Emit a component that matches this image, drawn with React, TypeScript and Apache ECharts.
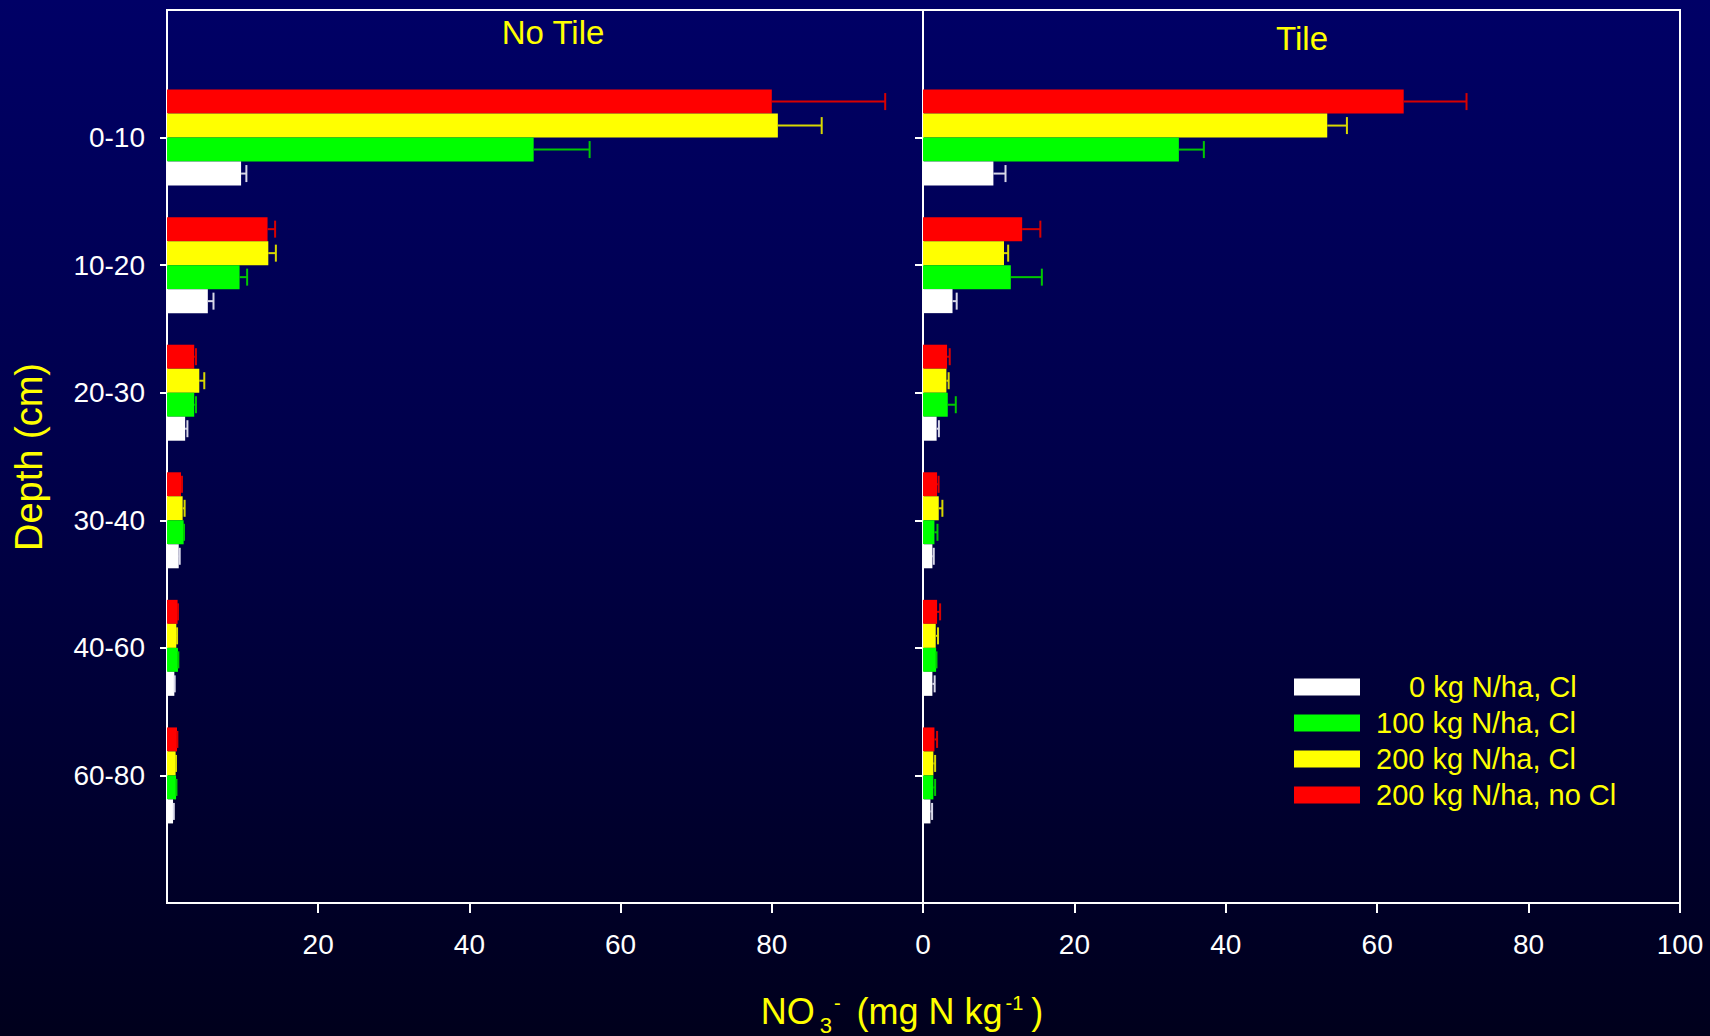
import React, { useEffect, useRef } from 'react';
import * as echarts from 'echarts';

const FONT = '"Liberation Sans", Arial, Helvetica, sans-serif';
const YELLOW = '#FFFF00';

const depths = ['0-10', '10-20', '20-30', '30-40', '40-60', '60-80'];
// padded with empty slots at both ends so the depth rows sit one band in from the frame
const axisCategories = [' ', ...depths, '  '];
const seriesNames = ['0 kg N/ha, Cl', '100 kg N/ha, Cl', '200 kg N/ha, Cl', '200 kg N/ha, no Cl'];
const barColors = ['#FFFFFF', '#00FF00', '#FFFF00', '#FF0000'];
const errColors = ['#D8D8E8', '#00C800', '#D8D800', '#D80000'];
const xTickValues = [0, 20, 40, 60, 80, 100];
const noTileLabelValues = [20, 40, 60, 80];
const noTileTickValues = [20, 40, 60, 80, 100];

// No Tile panel (mg N kg-1)
const noTile0 = [9.8, 5.4, 2.4, 1.55, 0.97, 0.8];
const noTile0Err = [0.7, 0.75, 0.3, 0.13, 0.05, 0.1];
const noTile100 = [48.5, 9.6, 3.6, 2.2, 1.45, 1.2];
const noTile100Err = [7.4, 1.0, 0.23, 0.05, 0.05, 0.05];
const noTile200 = [80.8, 13.4, 4.27, 2.07, 1.23, 1.14];
const noTile200Err = [5.8, 1.0, 0.66, 0.26, 0.1, 0.05];
const noTile200NoCl = [80.0, 13.3, 3.6, 1.85, 1.4, 1.32];
const noTile200NoClErr = [15.0, 1.0, 0.23, 0.13, 0.05, 0.05];

// Tile panel (mg N kg-1)
const tile0 = [9.3, 3.9, 1.8, 1.24, 1.24, 0.98];
const tile0Err = [1.6, 0.55, 0.3, 0.18, 0.3, 0.22];
const tile100 = [33.8, 11.6, 3.27, 1.51, 1.73, 1.37];
const tile100Err = [3.3, 4.1, 1.06, 0.4, 0.05, 0.23];
const tile200 = [53.4, 10.7, 3.09, 2.08, 1.68, 1.37];
const tile200Err = [2.6, 0.55, 0.3, 0.48, 0.3, 0.23];
const tile200NoCl = [63.5, 13.1, 3.18, 1.86, 1.86, 1.51];
const tile200NoClErr = [8.3, 2.4, 0.35, 0.2, 0.4, 0.35];

const BAR_W = 24;

function buildPanel(idx: number, values: number[][], errs: number[][]) {
  const order = [3, 2, 1, 0]; // red on top ... white at bottom
  const bars: any[] = [];
  const errors: any[] = [];
  order.forEach((k, p) => {
    bars.push({
      type: 'bar',
      name: seriesNames[k],
      xAxisIndex: idx,
      yAxisIndex: idx,
      barWidth: BAR_W,
      barGap: '0%',
      data: depths.map((d, i) => [values[k][i], d]),
      itemStyle: { color: barColors[k] },
      z: 2,
    });
    const offset = -1.5 * BAR_W + BAR_W * p;
    const color = errColors[k];
    errors.push({
      type: 'custom',
      xAxisIndex: idx,
      yAxisIndex: idx,
      dimensions: [
        { name: 'v', type: 'float' },
        { name: 'depth', type: 'ordinal' },
        { name: 'e', type: 'float' },
      ],
      encode: { x: 0, y: 1 },
      data: depths.map((d, i) => [values[k][i], d, errs[k][i]]),
      z: 3,
      silent: true,
      renderItem: (params: any, api: any) => {
        const v = api.value(0);
        const c = api.value(1);
        const e = api.value(2);
        const p0 = api.coord([v, c]);
        const p1 = api.coord([v + e, c]);
        const y = p0[1] + offset;
        const style = { stroke: color, lineWidth: 2 };
        return {
          type: 'group',
          children: [
            { type: 'line', shape: { x1: p0[0], y1: y, x2: p1[0], y2: y }, style },
            { type: 'line', shape: { x1: p1[0], y1: y - 8.5, x2: p1[0], y2: y + 8.5 }, style },
          ],
        };
      },
    });
  });
  return [...bars, ...errors];
}

export default function App() {
  const ref = useRef<HTMLDivElement>(null);

  useEffect(() => {
    if (!ref.current) return;
    const chart = echarts.init(ref.current, undefined, { renderer: 'svg' });

    const edge = (i: number) => i > 0 && i < axisCategories.length - 1;

    const yAxisBase = (gridIndex: number, showLabels: boolean, tickLen: number) => ({
      type: 'category',
      gridIndex,
      data: axisCategories,
      inverse: true,
      boundaryGap: false,
      axisLine: { show: true, lineStyle: { color: '#FFFFFF', width: 2 } },
      axisTick: { show: true, length: tickLen, interval: (i: number) => edge(i), lineStyle: { color: '#FFFFFF', width: 2 } },
      axisLabel: {
        show: showLabels,
        interval: (i: number) => edge(i),
        color: '#FFFFFF',
        fontSize: 28,
        fontFamily: FONT,
        margin: 22,
      },
      splitLine: { show: false },
    });

    const xAxisBase = (gridIndex: number, labels: number[], ticks: number[]) => ({
      type: 'value',
      gridIndex,
      min: 0,
      max: 100,
      interval: 20,
      axisLine: { show: true, onZero: false, lineStyle: { color: '#FFFFFF', width: 2 } },
      axisTick: { show: true, length: 10, customValues: ticks, lineStyle: { color: '#FFFFFF', width: 2 } },
      axisLabel: {
        customValues: labels,
        color: '#FFFFFF',
        fontSize: 28,
        fontFamily: FONT,
        margin: 27,
      },
      splitLine: { show: false },
    });

    const noTileValues = [noTile0, noTile100, noTile200, noTile200NoCl];
    const noTileErrs = [noTile0Err, noTile100Err, noTile200Err, noTile200NoClErr];
    const tileValues = [tile0, tile100, tile200, tile200NoCl];
    const tileErrs = [tile0Err, tile100Err, tile200Err, tile200NoClErr];

    const option: any = {
      animation: false,
      backgroundColor: 'transparent',
      textStyle: { fontFamily: FONT },
      grid: [
        { left: 167, top: 10, width: 756, height: 893, show: true, borderColor: '#FFFFFF', borderWidth: 2, backgroundColor: 'transparent' },
        { left: 923, top: 10, width: 757, height: 893, show: true, borderColor: '#FFFFFF', borderWidth: 2, backgroundColor: 'transparent' },
      ],
      xAxis: [xAxisBase(0, noTileLabelValues, noTileTickValues), xAxisBase(1, xTickValues, xTickValues)],
      yAxis: [yAxisBase(0, true, 7), yAxisBase(1, false, 8)],
      legend: {
        orient: 'vertical',
        left: 1294,
        top: 669,
        padding: 0,
        itemWidth: 66,
        itemHeight: 17,
        itemGap: 0,
        selectedMode: false,
        data: seriesNames.map((n) => ({ name: n, icon: 'rect' })),
        formatter: (name: string) => (name === seriesNames[0] ? '{z| }' + name : name),
        textStyle: {
          color: YELLOW,
          fontSize: 29,
          fontFamily: FONT,
          lineHeight: 36,
          padding: [0, 0, 0, 11],
          rich: { z: { width: 33, fontSize: 29, fontFamily: FONT } },
        },
      },
      graphic: [
        {
          type: 'text',
          x: 553,
          y: 32,
          style: { text: 'No Tile', fill: YELLOW, fontSize: 33, fontFamily: FONT, align: 'center', verticalAlign: 'middle' },
        },
        {
          type: 'text',
          x: 1302,
          y: 38,
          style: { text: 'Tile', fill: YELLOW, fontSize: 33, fontFamily: FONT, align: 'center', verticalAlign: 'middle' },
        },
        {
          type: 'text',
          x: 28.5,
          y: 457,
          rotation: Math.PI / 2,
          style: { text: 'Depth (cm)', fill: YELLOW, fontSize: 38, fontFamily: FONT, align: 'center', verticalAlign: 'middle' },
        },
        {
          type: 'text',
          x: 902,
          y: 993,
          style: {
            text: '{b|NO}{sub|3}{sup|-}{p|\u00A0(mg N kg}{sup2|-1}{q|)}',
            align: 'center',
            verticalAlign: 'top',
            fill: YELLOW,
            fontFamily: FONT,
            fontSize: 36,
            rich: {
              b: { fontSize: 36, lineHeight: 43, verticalAlign: 'top', fill: YELLOW, fontFamily: FONT },
              p: { fontSize: 36, lineHeight: 43, verticalAlign: 'top', fill: YELLOW, fontFamily: FONT, padding: [0, 0, 0, 6] },
              q: { fontSize: 36, lineHeight: 43, verticalAlign: 'top', fill: YELLOW, fontFamily: FONT, padding: [0, 0, 0, 8] },
              sub: { fontSize: 22, verticalAlign: 'bottom', fill: YELLOW, fontFamily: FONT, padding: [0, 0, 0, 5] },
              sup: { fontSize: 20, verticalAlign: 'top', fill: YELLOW, fontFamily: FONT, padding: [0, 0, 0, 2] },
              sup2: { fontSize: 20, verticalAlign: 'top', fill: YELLOW, fontFamily: FONT, padding: [0, 0, 0, 3] },
            },
          },
        },
      ],
      series: [...buildPanel(0, noTileValues, noTileErrs), ...buildPanel(1, tileValues, tileErrs)],
    };

    chart.setOption(option);
    return () => chart.dispose();
  }, []);

  return (
    <div
      ref={ref}
      style={{
        position: 'fixed',
        left: 0,
        top: 0,
        width: 1710,
        height: 1036,
        background: 'linear-gradient(to bottom, #000066 0%, #00004A 45%, #00001C 100%)',
      }}
    />
  );
}
